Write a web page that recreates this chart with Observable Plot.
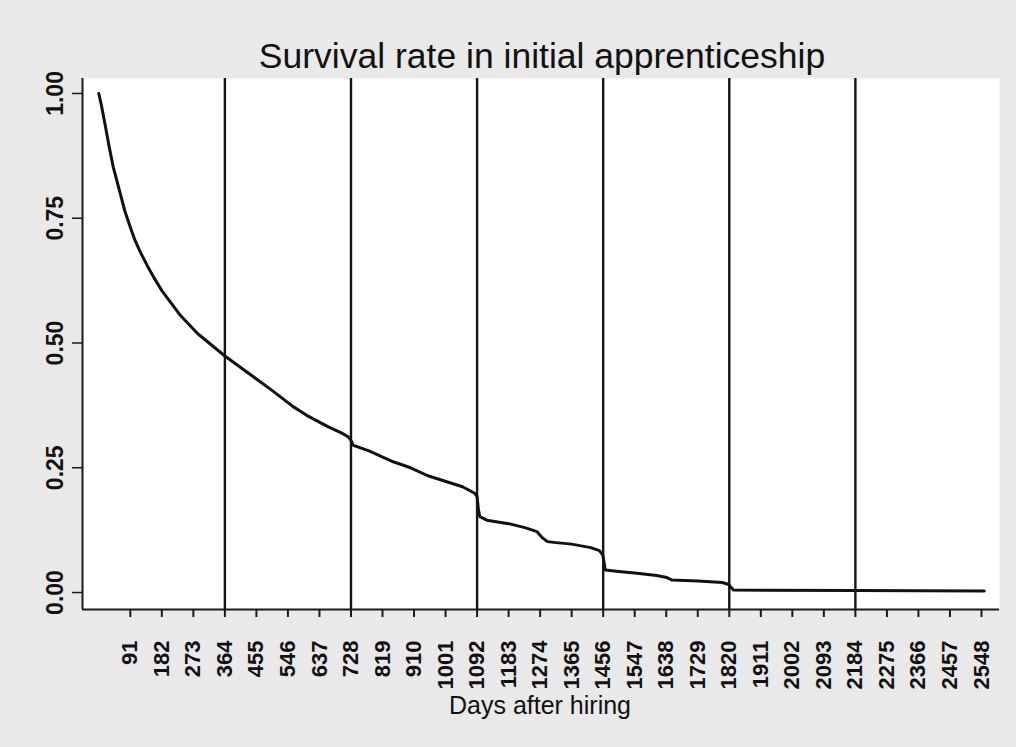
<!DOCTYPE html>
<html>
<head>
<meta charset="utf-8">
<script src="https://cdn.jsdelivr.net/npm/d3@7"></script>
<script src="https://cdn.jsdelivr.net/npm/@observablehq/plot@0.6"></script>
<style>
  html, body { margin: 0; padding: 0; background: #e9e9e9; }
  #chart svg { display: block; }
</style>
</head>
<body>
<div id="chart"></div>
<script>
// ---- data ----
const titleText = "Survival rate in initial apprenticeship";
const xLabel = "Days after hiring";

const days = [0, 8, 19, 30, 42, 60, 75, 91, 105, 120, 140, 160, 182, 236, 285, 364, 455, 500, 560, 600, 660, 700, 720, 728, 735, 780, 850, 900, 950, 1000, 1050, 1085, 1092, 1096, 1100, 1120, 1183, 1230, 1265, 1280, 1295, 1320, 1365, 1420, 1445, 1455, 1462, 1500, 1547, 1610, 1640, 1655, 1729, 1800, 1818, 1832, 2184, 2556];
const survival = [1.0, 0.975, 0.935, 0.893, 0.852, 0.805, 0.765, 0.732, 0.705, 0.682, 0.655, 0.63, 0.605, 0.555, 0.519, 0.474, 0.428, 0.405, 0.373, 0.355, 0.333, 0.32, 0.312, 0.305, 0.295, 0.284, 0.262, 0.25, 0.234, 0.223, 0.212, 0.199, 0.192, 0.165, 0.152, 0.145, 0.138, 0.13, 0.122, 0.11, 0.102, 0.1, 0.097, 0.09, 0.084, 0.075, 0.045, 0.042, 0.039, 0.034, 0.03, 0.025, 0.023, 0.02, 0.016, 0.005, 0.004, 0.003];

const xTicks = [91, 182, 273, 364, 455, 546, 637, 728, 819, 910, 1001, 1092, 1183, 1274, 1365, 1456, 1547, 1638, 1729, 1820, 1911, 2002, 2093, 2184, 2275, 2366, 2457, 2548];
const yTicks = [0, 0.25, 0.5, 0.75, 1];
const yearLines = [364, 728, 1092, 1456, 1820, 2184];

const xDomain = [-47, 2600];
const yDomain = [-0.034, 1.03];

const curve = days.map((d, i) => ({day: d, s: survival[i]}));

const font = "'Liberation Sans', Arial, Helvetica, sans-serif";

const chart = Plot.plot({
  width: 1016,
  height: 747,
  marginLeft: 82,
  marginRight: 17,
  marginTop: 78,
  marginBottom: 138,
  style: {background: "transparent", fontFamily: font, color: "#111"},
  x: {domain: xDomain},
  y: {domain: yDomain},
  marks: [
    Plot.frame({fill: "white", stroke: null}),
    Plot.ruleX(yearLines, {stroke: "#151515", strokeWidth: 2.4}),
    Plot.ruleX([xDomain[0]], {stroke: "#1a1a1a", strokeWidth: 2}),
    Plot.ruleY([yDomain[0]], {stroke: "#1a1a1a", strokeWidth: 2}),
    Plot.line(curve, {x: "day", y: "s", stroke: "#111", strokeWidth: 3, strokeLinejoin: "round"}),
    Plot.axisX({
      ticks: xTicks,
      tickFormat: d => String(d),
      tickSize: 8,
      tickPadding: 23,
      tickRotate: -90,
      fontSize: 22,
      fontWeight: "bold",
      stroke: "#1a1a1a",
      strokeWidth: 2,
      label: null
    }),
    Plot.axisY({
      ticks: yTicks,
      tickFormat: d3.format(".2f"),
      tickSize: 10,
      tickPadding: 10,
      tickRotate: -90,
      fontSize: 23,
      fontWeight: "bold",
      stroke: "#1a1a1a",
      strokeWidth: 1.5,
      label: null
    }),
    Plot.text([titleText], {
      frameAnchor: "top",
      dx: 1,
      dy: -11,
      lineAnchor: "bottom",
      fontSize: 35.5,
      fill: "#111"
    }),
    Plot.text([xLabel], {
      frameAnchor: "bottom",
      dx: -1,
      dy: 104,
      lineAnchor: "bottom",
      fontSize: 25,
      fill: "#111"
    })
  ]
});

document.getElementById("chart").appendChild(chart);
</script>
</body>
</html>
